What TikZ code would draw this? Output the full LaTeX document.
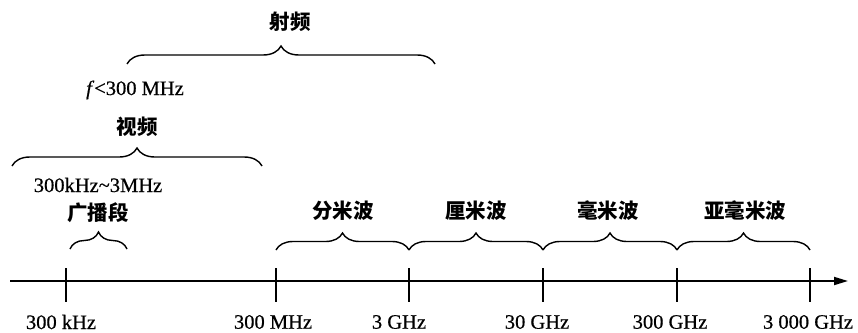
\documentclass[tikz,border=0pt]{standalone}
\usepackage{fontspec}
\setmainfont{Liberation Serif}
\newfontfamily\latf{Liberation Serif}[BoldFont=Liberation Serif,BoldFeatures={FakeBold=0.6},BoldItalicFont=Liberation Serif Italic,BoldItalicFeatures={FakeBold=0.6}]
\newfontfamily\cjk{Noto Sans CJK SC}
\usetikzlibrary{decorations.pathreplacing,arrows.meta}
\begin{document}
\begin{tikzpicture}[x=1pt,y=-1pt,
  axisline/.style={line width=1.8pt,-{Triangle[length=14pt,width=8pt]}},
  tickline/.style={line width=1.8pt},
  brc/.style={line width=1.4pt,decorate,decoration={brace,amplitude=#1}},
  lat/.style={font=\latf\bfseries\fontsize{20.5}{22}\selectfont,inner sep=0pt},
  han/.style={font=\cjk\bfseries\fontsize{20.5}{22}\selectfont,inner sep=0pt}]
\useasboundingbox (0,0) rectangle (858,332);
% axis
\coordinate (a0) at (10,281);
\coordinate (a1) at (848,281);
\draw[axisline] (a0) -- (a1);
% ticks
\foreach \n/\x in {t1/66,t2/276,t3/409,t4/543,t5/677,t6/810}{
  \coordinate (\n top) at (\x,268);
  \coordinate (\n bot) at (\x,302);
  \draw[tickline] (\n top) -- (\n bot);
}
% tick labels
\node[lat] (l1) at (61,322) {300 kHz};
\node[lat] (l2) at (273,322) {300 MHz};
\node[lat] (l3) at (399,322) {3 GHz};
\node[lat] (l4) at (537,322) {30 GHz};
\node[lat] (l5) at (670,322) {300 GHz};
\node[lat] (l6) at (808,322) {3 000 GHz};
% lower braces
\coordinate (b0) at (276,250);
\coordinate (b1) at (409,250);
\coordinate (b2) at (543,250);
\coordinate (b3) at (677,250);
\coordinate (b4) at (810,250);
\draw[brc=17pt] (b0) -- (b1);
\draw[brc=17pt] (b1) -- (b2);
\draw[brc=17pt] (b2) -- (b3);
\draw[brc=17pt] (b3) -- (b4);
\node[han] (w1) at (343,211) {分米波};
\node[han] (w2) at (476,211) {厘米波};
\node[han] (w3) at (608,211) {毫米波};
\node[han] (w4) at (745,211) {亚毫米波};
% broadcast
\coordinate (c0) at (70,249);
\coordinate (c1) at (127,249);
\draw[brc=17pt] (c0) -- (c1);
\node[lat] (r1) at (98,185) {300kHz\textasciitilde 3MHz};
\node[han] (r2) at (98,213) {广播段};
% video
\coordinate (v0) at (12,166);
\coordinate (v1) at (262,166);
\draw[brc=18pt] (v0) -- (v1);
\node[han] (vl) at (137,127) {视频};
\node[lat] (fl) at (135,90) {\textit{f}<300 MHz};
% RF
\coordinate (r0) at (127,64);
\coordinate (rr) at (435,64);
\draw[brc=18pt] (r0) -- (rr);
\node[han] (rl) at (290,22) {射频};
\end{tikzpicture}
\end{document}
